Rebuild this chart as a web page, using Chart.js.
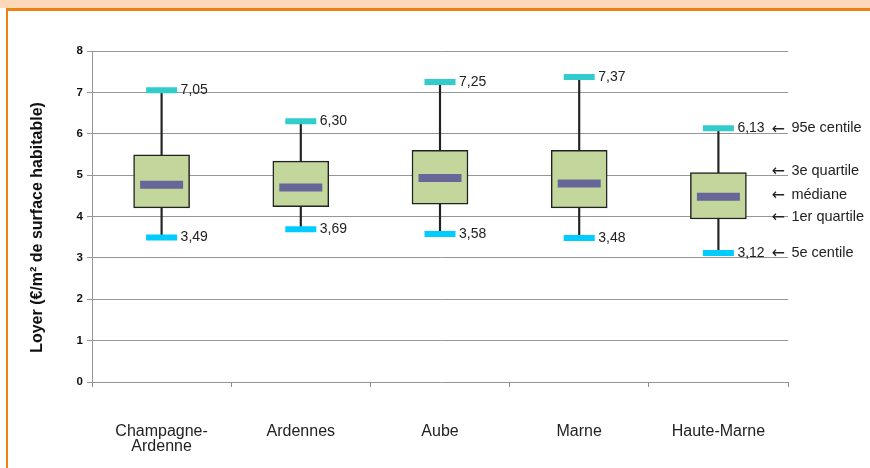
<!DOCTYPE html>
<html lang="fr">
<head>
<meta charset="utf-8">
<title>Loyers Champagne-Ardenne</title>
<script src="https://cdn.jsdelivr.net/npm/chart.js@4/dist/chart.umd.min.js"></script>
<style>
  html, body { margin: 0; padding: 0; background: #fff; }
  body { width: 870px; height: 468px; position: relative; overflow: hidden; }
  .band { position: absolute; left: 0; top: 0; width: 870px; height: 8px; background: #fdd9ba; }
  .frame { position: absolute; left: 6px; top: 8px; width: 870px; height: 470px;
           border-top: 3px solid #ef8112; border-left: 2px solid #ef8112; }
  #chart { position: absolute; left: 0; top: 0; }
</style>
</head>
<body>
<div class="band"></div>
<div class="frame"></div>
<canvas id="chart" width="870" height="468"></canvas>
<script>
  // Loyers au m² par département : centiles et quartiles
  const categories = [['Champagne-', 'Ardenne'], 'Ardennes', 'Aube', 'Marne', 'Haute-Marne'];
  const p5 = [3.49, 3.69, 3.58, 3.48, 3.12];
  const q1 = [4.21, 4.24, 4.30, 4.21, 3.94];
  const median = [4.77, 4.70, 4.93, 4.80, 4.48];
  const q3 = [5.49, 5.34, 5.60, 5.60, 5.06];
  const p95 = [7.05, 6.30, 7.25, 7.37, 6.13];
  const statNames = ['95e centile', '3e quartile', 'médiane', '1er quartile', '5e centile'];
  const yTicks = [0, 1, 2, 3, 4, 5, 6, 7, 8];
  const yTitle = 'Loyer (€/m² de surface habitable)';

  const FONT = "'Liberation Sans', Arial, sans-serif";

  const fmt = v => v.toFixed(2).replace('.', ',');

  // Value labels next to the caps, the key beside the last box, and the y title
  const labelPlugin = {
    id: 'boxLabels',
    afterDatasetsDraw (chart) {
      const ctx = chart.ctx;
      const x = chart.scales.x;
      const y = chart.scales.y;
      ctx.save();
      ctx.font = '14px ' + FONT;
      ctx.fillStyle = '#222';
      ctx.textAlign = 'left';
      ctx.textBaseline = 'middle';
      categories.forEach((c, i) => {
        const cx = x.getPixelForValue(i);
        ctx.fillText(fmt(p95[i]), cx + 19, y.getPixelForValue(p95[i]));
        ctx.fillText(fmt(p5[i]), cx + 19, y.getPixelForValue(p5[i]));
      });
      const last = categories.length - 1;
      const cx = x.getPixelForValue(last);
      const stats = [p95[last], q3[last], median[last], q1[last], p5[last]];
      stats.forEach((v, k) => {
        const py = y.getPixelForValue(v) - (k === 0 || k === 4 ? 0 : 2);
        ctx.font = "16px 'DejaVu Sans', sans-serif";
        ctx.fillText('\u2190', cx + 53, py + 1);
        ctx.font = '14.5px ' + FONT;
        ctx.fillText(statNames[k], cx + 73, py);
      });

      ctx.translate(38, (y.top + y.bottom) / 2 + 11);
      ctx.rotate(-Math.PI / 2);
      ctx.textAlign = 'center';
      ctx.fillStyle = '#111';
      ctx.font = 'bold 16px ' + FONT;
      ctx.fillText(yTitle, 0, 0);
      ctx.restore();
    }
  };

  const ctx = document.getElementById('chart').getContext('2d');
  const chart = new Chart(ctx, {
    type: 'bar',
    data: {
      labels: categories,
      datasets: [{
        // whiskers from 5e to 95e centile
        type: 'bar',
        data: p5.map((v, i) => [v, p95[i]]),
        backgroundColor: '#222',
        borderWidth: 0,
        barThickness: 1.5,
        grouped: false,
        order: 5
      }, {
        // interquartile box
        type: 'bar',
        data: q1.map((v, i) => [v, q3[i]]),
        backgroundColor: '#c3d69b',
        borderColor: '#222',
        borderWidth: 1.5,
        borderSkipped: false,
        barThickness: 56,
        grouped: false,
        order: 4
      }, {
        type: 'line',
        data: median,
        showLine: false,
        pointStyle: 'line',
        pointRadius: 21.5,
        pointBorderWidth: 8,
        pointBorderColor: '#666699',
        order: 3
      }, {
        type: 'line',
        data: p95,
        showLine: false,
        pointStyle: 'line',
        pointRadius: 15.5,
        pointBorderWidth: 6,
        pointBorderColor: '#33cccc',
        order: 2
      }, {
        type: 'line',
        data: p5,
        showLine: false,
        pointStyle: 'line',
        pointRadius: 15.5,
        pointBorderWidth: 6,
        pointBorderColor: '#00ccff',
        order: 1
      }]
    },
    options: {
      responsive: false,
      animation: false,
      events: [],
      layout: { padding: { left: 0, top: 51, right: 82, bottom: 0 } },
      plugins: {
        legend: { display: false },
        tooltip: { enabled: false }
      },
      scales: {
        x: {
          offset: true,
          grid: { display: true, offset: true, drawOnChartArea: false, tickLength: 5, color: '#8c8c8c' },
          border: { display: false },
          ticks: { color: '#222', padding: 37, maxRotation: 0, font: { family: FONT, size: 16, lineHeight: 0.95 } },
          afterFit: scale => { scale.height = 86; }
        },
        y: {
          min: yTicks[0],
          max: yTicks[yTicks.length - 1],
          afterBuildTicks: scale => { scale.ticks = yTicks.map(v => ({ value: v })); },
          grid: { color: '#969696', tickLength: 5 },
          border: { color: '#969696' },
          ticks: { color: '#111', padding: 4, font: { family: FONT, size: 11.5, weight: 'bold' } },
          afterFit: scale => { scale.width = 92; }
        }
      }
    },
    plugins: [labelPlugin]
  });
</script>
</body>
</html>
